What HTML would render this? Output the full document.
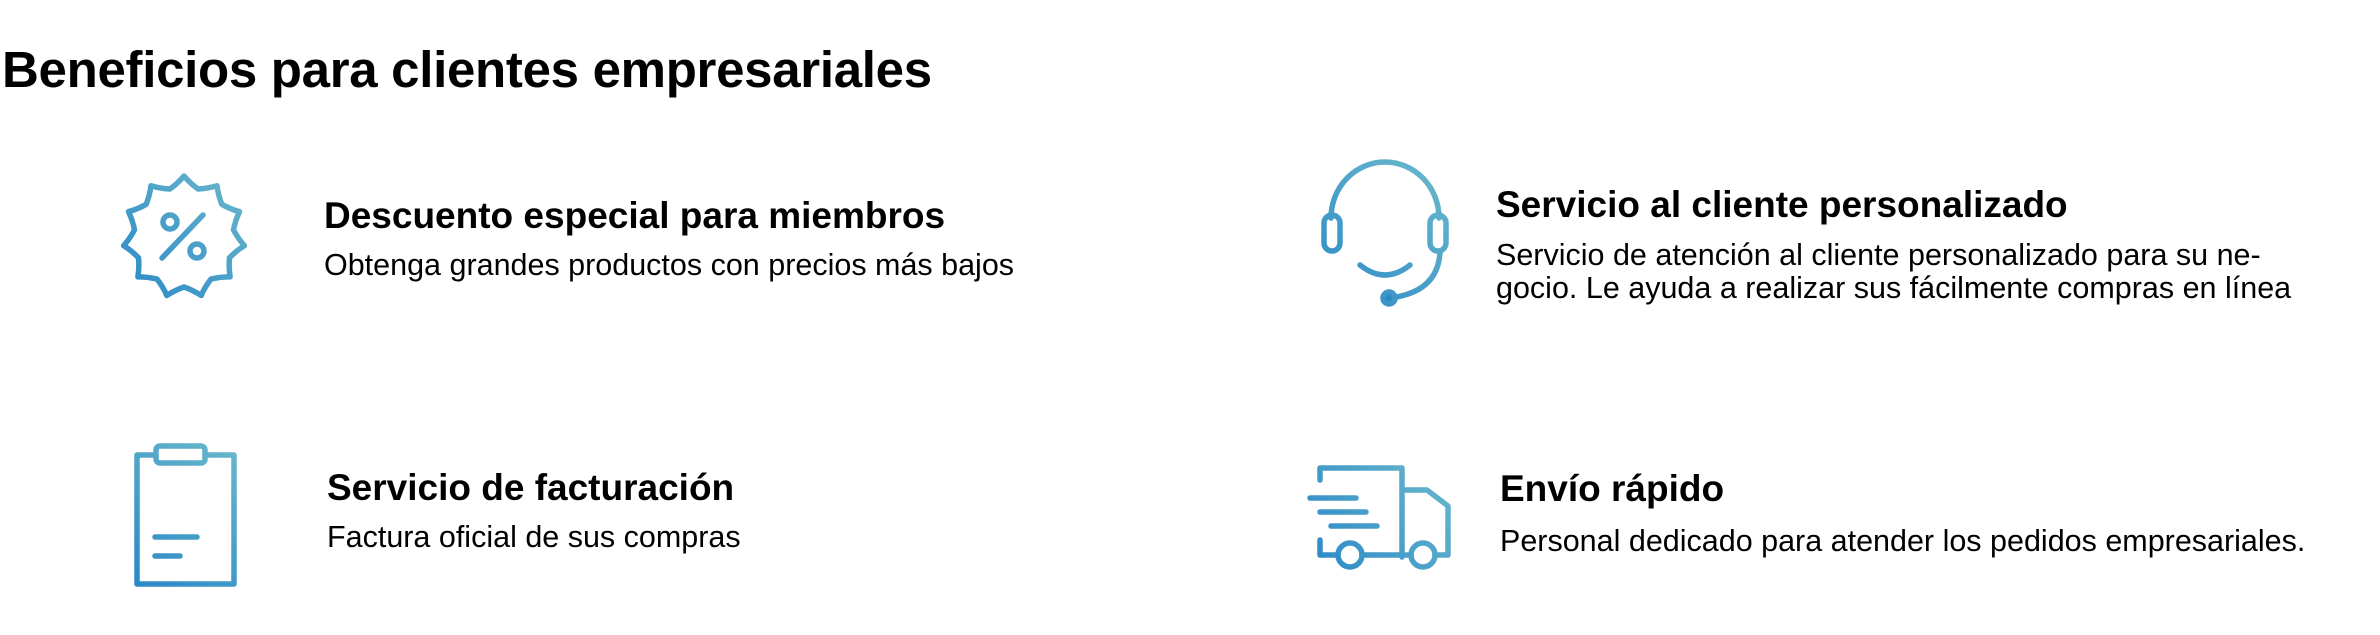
<!DOCTYPE html>
<html><head><meta charset="utf-8"><style>
body{margin:0;width:2380px;height:635px;background:#fff;position:relative;overflow:hidden;font-family:"Liberation Sans",sans-serif;color:#000}
.t{position:absolute;white-space:nowrap}
h1{position:absolute;left:2px;top:40px;margin:0;font-size:51px;font-weight:bold;letter-spacing:-0.3px}
.h{font-size:37px;font-weight:bold}
.d{font-size:30.5px;line-height:33px}
svg{position:absolute;left:0;top:0}
</style></head><body>
<h1>Beneficios para clientes empresariales</h1>
<div class="t h" style="left:324px;top:195px">Descuento especial para miembros</div>
<div class="t d" style="left:324px;top:249px">Obtenga grandes productos con precios más bajos</div>
<div class="t h" style="left:1496px;top:184px">Servicio al cliente personalizado</div>
<div class="t d" style="left:1496px;top:239px">Servicio de atención al cliente personalizado para su ne-<br>gocio. Le ayuda a realizar sus fácilmente compras en línea</div>
<div class="t h" style="left:327px;top:467px">Servicio de facturación</div>
<div class="t d" style="left:327px;top:521px">Factura oficial de sus compras</div>
<div class="t h" style="left:1500px;top:468px">Envío rápido</div>
<div class="t d" style="left:1500px;top:525px">Personal dedicado para atender los pedidos empresariales.</div>
<svg width="2380" height="635">
<defs>
<linearGradient id="g1" gradientUnits="userSpaceOnUse" x1="120" y1="300" x2="246" y2="173"><stop offset="0" stop-color="#2a88c7"/><stop offset="1" stop-color="#6ab8cb"/></linearGradient>
<linearGradient id="g2" gradientUnits="userSpaceOnUse" x1="1322" y1="313" x2="1449" y2="173"><stop offset="0" stop-color="#2a88c7"/><stop offset="1" stop-color="#6ab8cb"/></linearGradient>
<linearGradient id="g3" gradientUnits="userSpaceOnUse" x1="132" y1="585" x2="239" y2="443"><stop offset="0" stop-color="#2a88c7"/><stop offset="1" stop-color="#6ab8cb"/></linearGradient>
<linearGradient id="g4" gradientUnits="userSpaceOnUse" x1="1310" y1="570" x2="1450" y2="467"><stop offset="0" stop-color="#2a88c7"/><stop offset="1" stop-color="#6ab8cb"/></linearGradient>
</defs>
<g fill="none" stroke-width="5.5" stroke-linecap="round" stroke-linejoin="round">
<g stroke="url(#g1)">
<path id="badge" d=""/>
<circle cx="170" cy="222" r="7"/><circle cx="197" cy="251" r="7"/><line x1="162" y1="258" x2="203" y2="215"/>
</g>
<g stroke="url(#g2)">
<path d="M1331 218 A54 56 0 0 1 1439 218"/>
<rect x="1324" y="215" width="16" height="36" rx="8"/>
<rect x="1430" y="215" width="16" height="36" rx="8"/>
<path d="M1360 265 Q1385 285 1410 265"/>
<path d="M1440 252 Q1438 292 1390 298"/>
<circle cx="1389" cy="298" r="6" fill="#2e8ac5"/>
</g>
<g stroke="url(#g3)">
<path d="M155 455 H137 V584 H234 V455 H206"/>
<rect x="156" y="446" width="49" height="17" rx="4"/>
<line x1="155" y1="537" x2="197" y2="537"/><line x1="155" y1="556" x2="180" y2="556"/>
</g>
<g stroke="url(#g4)">
<path d="M1320 480 V468 H1402 V557"/>
<path d="M1320 540 V555 H1338"/>
<path d="M1362 555 H1411"/>
<path d="M1402 490 H1427 L1448 506 V555 H1435"/>
<circle cx="1350" cy="555" r="12"/><circle cx="1423" cy="555" r="12"/>
<line x1="1310" y1="498" x2="1356" y2="498"/><line x1="1320" y1="512" x2="1366" y2="512"/><line x1="1331" y1="526" x2="1377" y2="526"/>
</g>
</g>
</svg>
<script>
(function(){var cx=184,cy=237,n=11,R=61,r=50,d="";
function p(rr,a){return [cx+rr*Math.cos(a),cy+rr*Math.sin(a)];}
for(var i=0;i<n;i++){var a=-Math.PI/2+i*2*Math.PI/n,h=Math.PI/n;
var s=p(r,a-h);var t=p(R,a);var e=p(r,a+h);
if(i==0)d+="M"+s[0].toFixed(1)+" "+s[1].toFixed(1);
var c1=p(r+4,a-h*0.4),c2=p(r+4,a+h*0.4);
d+="Q"+c1[0].toFixed(1)+" "+c1[1].toFixed(1)+" "+t[0].toFixed(1)+" "+t[1].toFixed(1);
d+="Q"+c2[0].toFixed(1)+" "+c2[1].toFixed(1)+" "+e[0].toFixed(1)+" "+e[1].toFixed(1);}
document.getElementById("badge").setAttribute("d",d+"Z");})();
</script>
</body></html>
